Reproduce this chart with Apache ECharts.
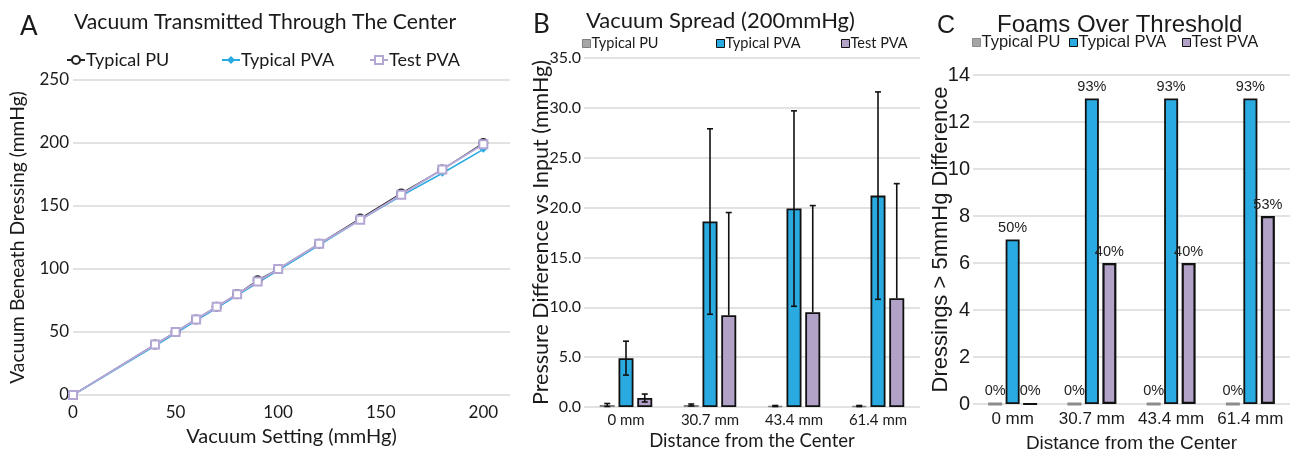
<!DOCTYPE html>
<html>
<head>
<meta charset="utf-8">
<script src="https://cdn.jsdelivr.net/npm/echarts@6/dist/echarts.min.js"></script>
<style>
html,body{margin:0;padding:0;background:#fff;}
#wrap{position:relative;width:1296px;height:453px;overflow:hidden;}
.c{position:absolute;top:0;left:0;width:1296px;height:453px;}
</style>
</head>
<body>
<div id="wrap">
  <div id="ca" class="c"></div>
  <div id="cb" class="c"></div>
  <div id="cc" class="c"></div>
</div>
<script>
// ---------- Panel A data ----------
const aSetting = [0, 40, 50, 60, 70, 80, 90, 100, 120, 140, 160, 180, 200];
const aTypicalPU = [0, 40, 50, 60, 70, 80, 91, 100, 120, 140, 160, 179, 200];
const aTypicalPVA = [0, 39, 49, 59, 69, 79, 89, 99, 119, 139, 158, 176, 195];
const aTestPVA = [0, 40, 50, 60, 70, 80, 90, 100, 120, 139, 159, 179, 199];

// ---------- Panel B data ----------
const distances = ['0 mm', '30.7 mm', '43.4 mm', '61.4 mm'];
const bTypicalPU = [0.2, 0.2, 0.1, 0.1];
const bTypicalPUErr = [0.15, 0.1, 0.05, 0.05];
const bTypicalPVA = [4.9, 18.6, 19.9, 21.2];
const bTypicalPVAErr = [1.7, 9.3, 9.8, 10.4];
const bTestPVA = [0.9, 9.2, 9.5, 10.9];
const bTestPVAErr = [0.4, 10.3, 10.7, 11.5];

// ---------- Panel C data ----------
const cTypicalPU = [0, 0, 0, 0];
const cTypicalPVA = [7, 13, 13, 13];
const cTestPVA = [0, 6, 6, 8];
const cTypicalPULabels = ['0%', '0%', '0%', '0%'];
const cTypicalPVALabels = ['50%', '93%', '93%', '93%'];
const cTestPVALabels = ['0%', '40%', '40%', '53%'];

const seriesNames = ['Typical PU', 'Typical PVA', 'Test PVA'];

const BLUE = '#29abe2';
const LAV = '#b3a2c8';
const LAV_LINE = '#b4a7d6';
const GRAY = '#a6a6a6';
const GRID = '#d9d9d9';
const TXT = '#1a1a1a';
const FA = 'Lato';
const FC = 'Liberation Sans';
const OB = 525;   // panel B x offset
const OC = 930;   // panel C x offset

function pairs(xs, ys) { return xs.map((x, i) => [x, ys[i]]); }

function legends(lefts, top, font, size, iw, ih, styles) {
  return seriesNames.map((n, i) => ({
    top: top, left: lefts[i], itemWidth: iw, itemHeight: ih, padding: 0,
    textStyle: {fontFamily: font, fontSize: size, color: TXT, padding: [0, 0, 0, -4]},
    data: [styles ? Object.assign({name: n}, styles[i]) : n]
  }));
}

// ---------- Chart A ----------
const chartA = echarts.init(document.getElementById('ca'), null, {renderer: 'canvas'});
chartA.setOption({
  animation: false,
  textStyle: {fontFamily: FA, color: TXT},
  title: [
    {text: 'A', left: 15, top: 9, textStyle: {fontFamily: FA, fontSize: 26, fontWeight: 'normal', color: TXT}},
    {text: 'Vacuum Transmitted Through The Center', left: 69, top: 7, textStyle: {fontFamily: FA, fontSize: 21.2, fontWeight: 'normal', color: TXT}}
  ],
  legend: legends([66, 221, 369], 51, FA, 18, 18, 10, null),
  grid: {left: 73, top: 80, width: 437, height: 315, outerBoundsMode: 'none'},
  xAxis: {
    type: 'value', min: 0, max: 213, interval: 50,
    name: 'Vacuum Setting (mmHg)', nameLocation: 'middle', nameGap: 32, nameMoveOverlap: false,
    nameTextStyle: {fontFamily: FA, fontSize: 20, color: TXT},
    axisLine: {show: false}, axisTick: {show: false}, splitLine: {show: false},
    axisLabel: {fontFamily: FA, fontSize: 17, color: TXT, margin: 9, showMaxLabel: false}
  },
  yAxis: {
    type: 'value', min: 0, max: 250, interval: 50,
    name: 'Vacuum Beneath Dressing (mmHg)', nameLocation: 'middle', nameGap: 46, nameMoveOverlap: false,
    nameTextStyle: {fontFamily: FA, fontSize: 19.3, color: TXT},
    axisLine: {show: false}, axisTick: {show: false},
    splitLine: {lineStyle: {color: GRID, width: 1.5}},
    axisLabel: {fontFamily: FA, fontSize: 17, color: TXT, margin: 4}
  },
  series: [
    {name: 'Typical PU', type: 'line', data: pairs(aSetting, aTypicalPU), symbol: 'emptyCircle', symbolSize: 8,
     lineStyle: {color: '#262626', width: 1.3}, itemStyle: {color: '#262626', borderWidth: 1.5}},
    {name: 'Typical PVA', type: 'line', data: pairs(aSetting, aTypicalPVA), symbol: 'diamond', symbolSize: 7,
     lineStyle: {color: BLUE, width: 1.5}, itemStyle: {color: BLUE}},
    {name: 'Test PVA', type: 'line', data: pairs(aSetting, aTestPVA), symbol: 'emptyRect', symbolSize: 8,
     lineStyle: {color: LAV_LINE, width: 2}, itemStyle: {color: LAV_LINE, borderWidth: 1.5}}
  ]
});

// ---------- Chart B ----------
const BW = 15, BGAP = 0.25;
function errSeries(vals, errs, idx) {
  const off = (idx - 1) * BW * (1 + BGAP);
  return {
    type: 'custom', z: 10, silent: true,
    data: vals.map((v, i) => [i, v, errs[i]]),
    encode: {x: 0, y: 1},
    renderItem: function (params, api) {
      const i = api.value(0), v = api.value(1), e = api.value(2);
      const top = api.coord([i, v + e]);
      const mid = api.coord([i, v]);
      const lowV = v - e;
      const bot = lowV >= 0 ? api.coord([i, lowV]) : mid;
      const x = top[0] + off;
      const cap = 3;
      const st = {stroke: '#111', lineWidth: 1.6};
      const children = [
        {type: 'line', shape: {x1: x, y1: top[1], x2: x, y2: bot[1]}, style: st},
        {type: 'line', shape: {x1: x - cap, y1: top[1], x2: x + cap, y2: top[1]}, style: st}
      ];
      if (lowV >= 0) children.push({type: 'line', shape: {x1: x - cap, y1: bot[1], x2: x + cap, y2: bot[1]}, style: st});
      return {type: 'group', children: children};
    }
  };
}
const barStylesB = [
  {icon: 'rect', itemStyle: {color: GRAY, borderColor: '#7f7f7f', borderWidth: 1}},
  {icon: 'rect', itemStyle: {color: BLUE, borderColor: '#111', borderWidth: 1}},
  {icon: 'rect', itemStyle: {color: LAV, borderColor: '#111', borderWidth: 1}}
];
const chartB = echarts.init(document.getElementById('cb'), null, {renderer: 'canvas'});
chartB.setOption({
  animation: false,
  textStyle: {fontFamily: FA, color: TXT},
  title: [
    {text: 'B', left: OB + 3, top: 7, textStyle: {fontFamily: FA, fontSize: 26, fontWeight: 'normal', color: TXT}},
    {text: 'Vacuum Spread (200mmHg)', left: OB + 56, top: 5, textStyle: {fontFamily: FA, fontSize: 22, fontWeight: 'normal', color: TXT}}
  ],
  legend: legends([OB + 57, OB + 191, OB + 316], 36, FA, 14.5, 8, 8, barStylesB),
  grid: {left: OB + 59, top: 58, width: 336, height: 349, outerBoundsMode: 'none'},
  xAxis: {
    type: 'category', data: distances,
    name: 'Distance from the Center', nameLocation: 'middle', nameGap: 25, nameMoveOverlap: false,
    nameTextStyle: {fontFamily: FA, fontSize: 18.5, color: TXT},
    axisLine: {show: false}, axisTick: {show: false},
    axisLabel: {fontFamily: FA, fontSize: 15, color: TXT, margin: 6, interval: 0}
  },
  yAxis: {
    type: 'value', min: 0, max: 35, interval: 5,
    name: 'Pressure Difference vs Input (mmHg)', nameLocation: 'middle', nameGap: 32, nameMoveOverlap: false,
    nameTextStyle: {fontFamily: FA, fontSize: 21.5, color: TXT},
    axisLine: {show: false}, axisTick: {show: false},
    splitLine: {lineStyle: {color: GRID, width: 1.5}},
    axisLabel: {fontFamily: FA, fontSize: 16, color: TXT, margin: 3, formatter: v => v.toFixed(1)}
  },
  series: [
    {name: 'Typical PU', type: 'bar', data: bTypicalPU, barWidth: BW, barGap: '25%',
     itemStyle: {color: GRAY, borderColor: '#7f7f7f', borderWidth: 1.5}},
    {name: 'Typical PVA', type: 'bar', data: bTypicalPVA, barWidth: BW,
     itemStyle: {color: BLUE, borderColor: '#111', borderWidth: 1.8}},
    {name: 'Test PVA', type: 'bar', data: bTestPVA, barWidth: BW,
     itemStyle: {color: LAV, borderColor: '#111', borderWidth: 1.8}},
    errSeries(bTypicalPU, bTypicalPUErr, 0),
    errSeries(bTypicalPVA, bTypicalPVAErr, 1),
    errSeries(bTestPVA, bTestPVAErr, 2)
  ]
});

// ---------- Chart C ----------
const chartC = echarts.init(document.getElementById('cc'), null, {renderer: 'canvas'});
function lbl(arr) {
  return {show: true, position: 'top', distance: 4, fontFamily: FC, fontSize: 14.5, color: '#222',
    formatter: p => arr[p.dataIndex]};
}
const barStylesC = [
  {icon: 'rect', itemStyle: {color: GRAY, borderColor: '#8c8c8c', borderWidth: 1}},
  {icon: 'rect', itemStyle: {color: BLUE, borderColor: '#111', borderWidth: 1}},
  {icon: 'rect', itemStyle: {color: LAV, borderColor: '#111', borderWidth: 1}}
];
chartC.setOption({
  animation: false,
  textStyle: {fontFamily: FC, color: TXT},
  title: [
    {text: 'C', left: OC + 2, top: 9, textStyle: {fontFamily: FC, fontSize: 25, fontWeight: 'normal', color: TXT}},
    {text: 'Foams Over Threshold', left: OC + 62, top: 8, textStyle: {fontFamily: FC, fontSize: 24, fontWeight: 'normal', color: TXT}}
  ],
  legend: legends([OC + 42, OC + 139, OC + 252], 34, FC, 16.5, 8, 8, barStylesC),
  grid: {left: OC + 43, top: 75, width: 317, height: 329, outerBoundsMode: 'none'},
  xAxis: {
    type: 'category', data: distances,
    name: 'Distance from the Center', nameLocation: 'middle', nameGap: 30, nameMoveOverlap: false,
    nameTextStyle: {fontFamily: FC, fontSize: 19, color: TXT},
    axisLine: {show: false}, axisTick: {show: false},
    axisLabel: {fontFamily: FC, fontSize: 17, color: TXT, margin: 7, interval: 0}
  },
  yAxis: {
    type: 'value', min: 0, max: 14, interval: 2,
    name: 'Dressings > 5mmHg Difference', nameLocation: 'middle', nameGap: 21, nameMoveOverlap: false,
    nameTextStyle: {fontFamily: FC, fontSize: 22, color: TXT},
    axisLine: {show: false}, axisTick: {show: false},
    splitLine: {lineStyle: {color: GRID, width: 1.5}},
    axisLabel: {fontFamily: FC, fontSize: 20, color: TXT, margin: 3}
  },
  series: [
    {name: 'Typical PU', type: 'bar', data: cTypicalPU, barWidth: 14, barGap: '25%',
     itemStyle: {color: GRAY, borderColor: '#8c8c8c', borderWidth: 3}, label: lbl(cTypicalPULabels)},
    {name: 'Typical PVA', type: 'bar', data: cTypicalPVA, barWidth: 14,
     itemStyle: {color: BLUE, borderColor: '#111', borderWidth: 1.8}, label: lbl(cTypicalPVALabels)},
    {name: 'Test PVA', type: 'bar', data: cTestPVA, barWidth: 14,
     itemStyle: {color: LAV, borderColor: '#111', borderWidth: 2.2}, label: lbl(cTestPVALabels)}
  ]
});
</script>
</body>
</html>
